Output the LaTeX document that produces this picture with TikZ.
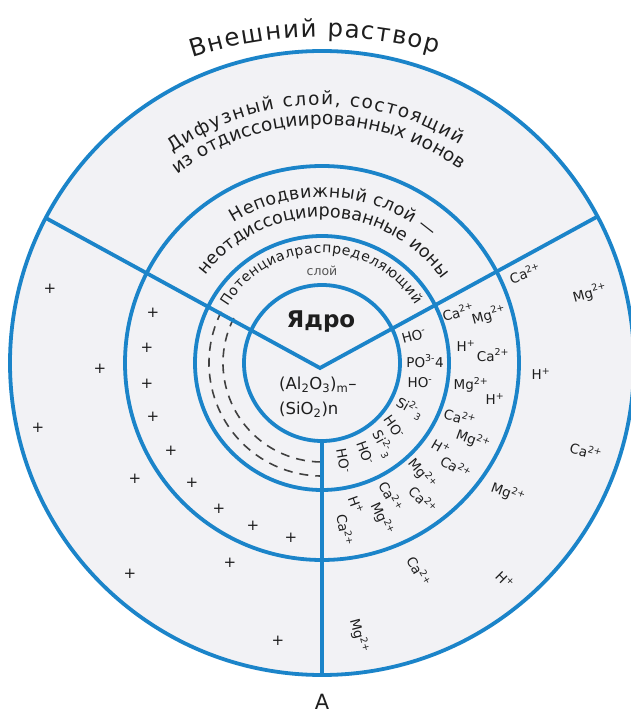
\documentclass[tikz,border=0pt]{standalone}
\usepackage{fontspec}
\setmainfont{DejaVu Sans}
\usetikzlibrary{decorations.text}

\definecolor{ringblue}{RGB}{27,132,201}
\definecolor{cellgray}{RGB}{242,242,245}
\definecolor{ink}{RGB}{30,30,30}
\definecolor{softink}{RGB}{85,85,85}

\newcommand{\titlefont}{\color{ink}\fontsize{24.5}{24.5}\selectfont}
\newcommand{\layerfont}{\color{ink}\fontsize{18.5}{18.5}\selectfont}
\newcommand{\stillfont}{\color{ink}\fontsize{17.5}{17.5}\selectfont}
\newcommand{\potfont}{\color{ink}\fontsize{14}{14}\selectfont}

\tikzset{
    ring/.style={draw=ringblue, line width=3.8pt},
    chargeline/.style={draw=ink!85, line width=1.6pt, dash pattern=on 9pt off 7pt},
    arclabel/.style={decorate, decoration={text along path, text align={fit to path}}},
    ion/.style={text=ink, inner sep=0pt, font=\fontsize{13.5}{14}\selectfont},
    plus/.style={text=ink, inner sep=0pt, font=\fontsize{15}{15}\selectfont},
    formula/.style={text=ink, inner sep=0pt, anchor=west, font=\fontsize{16.5}{16.5}\selectfont}
}

\begin{document}
\begin{tikzpicture}[x=1pt, y=1pt]
        \useasboundingbox (-322,-352) rectangle (309,363);
        \fill[white] (-322,-352) rectangle (309,363);

        \fill[cellgray] (0,0) circle[radius=312];

        \coordinate (vtx) at (-2,-5);
        \coordinate (leftend) at (152.3:312);
        \coordinate (rightend) at (28:312);
        \coordinate (corebot) at (0,-78);
        \coordinate (outbot) at (0,-312);

        \draw[chargeline] (153:113) arc[start angle=153, end angle=270, radius=113];
        \draw[chargeline] (153:99) arc[start angle=153, end angle=270, radius=99];

        \draw[ring] (0,0) circle[radius=312];
        \draw[ring] (0,0) circle[radius=197];
        \draw[ring] (0,0) circle[radius=127];
        \draw[ring] (0,0) circle[radius=78];
        \draw[ring, line join=miter] (leftend) -- (vtx) -- (rightend);
        \draw[ring] (corebot) -- (outbot);

        % layer captions
        \path[arclabel, shift={(0,-94)}, decoration={text={|\titlefont|Внешний раствор}}]
            (108:420) arc[start angle=108, end angle=74, radius=420];
        \path[arclabel, decoration={text={|\layerfont|Дифузный слой, состоящий}}]
            (125.5:258) arc[start angle=125.5, end angle=57.7, radius=258];
        \path[arclabel, decoration={text={|\layerfont|из отдиссоциированных ионов}}]
            (127.5:238) arc[start angle=127.5, end angle=54.5, radius=238];
        \path[arclabel, decoration={text={|\stillfont|Неподвижный слой —}}]
            (122:166) arc[start angle=122, end angle=49, radius=166];
        \path[arclabel, decoration={text={|\stillfont|неотдиссоциированные ионы}}]
            (143:146) arc[start angle=143, end angle=35, radius=146];
        \path[arclabel, decoration={text={|\potfont|Потенциалраспределяющий}}]
            (149:110) arc[start angle=149, end angle=32, radius=110];
        \node[text=softink, inner sep=0pt, font=\fontsize{12.5}{12.5}\selectfont] (potword) at (0,92) {слой};

        % core
        \node[text=ink, inner sep=0pt, font=\fontsize{23}{23}\selectfont\bfseries] (nucleus) at (-1,41) {Ядро};
        \node[formula] (alox) at (-43,-22) {(Al\textsubscript{2}O\textsubscript{3})\textsubscript{m}–};
        \node[formula] (siox) at (-43,-47) {(SiO\textsubscript{2})n};

        % potential layer
        \node[ion, rotate=15] (pa) at (92,27) {HO\textsuperscript{-}};
        \node[ion] (pb) at (103,2) {PO\textsuperscript{3-}4};
        \node[ion] (pc) at (98,-20) {HO\textsuperscript{-}};
        \node[ion, rotate=-30] (pd) at (88,-45) {Si\textsuperscript{2-}\textsubscript{3}};
        \node[ion, rotate=-55] (pe) at (72,-64) {HO\textsuperscript{-}};
        \node[ion, rotate=-62] (pf) at (61,-81) {Si\textsuperscript{2-}\textsubscript{3}};
        \node[ion, rotate=-70] (pg) at (43,-90) {HO\textsuperscript{-}};
        \node[ion, rotate=-80] (ph) at (21,-98) {HO\textsuperscript{-}};

        % stationary layer
        \node[ion, rotate=15] (sa) at (136,51) {Ca\textsuperscript{2+}};
        \node[ion, rotate=15] (sb) at (167,48) {Mg\textsuperscript{2+}};
        \node[ion] (sc) at (144,17) {H\textsuperscript{+}};
        \node[ion] (sd) at (171,8) {Ca\textsuperscript{2+}};
        \node[ion] (se) at (149,-22) {Mg\textsuperscript{2+}};
        \node[ion] (sf) at (173,-36) {H\textsuperscript{+}};
        \node[ion, rotate=-15] (sg) at (138,-54) {Ca\textsuperscript{2+}};
        \node[ion, rotate=-20] (sh) at (151,-77) {Mg\textsuperscript{2+}};
        \node[ion, rotate=-30] (si) at (119,-84) {H\textsuperscript{+}};
        \node[ion, rotate=-30] (sj) at (134,-104) {Ca\textsuperscript{2+}};
        \node[ion, rotate=-50] (sk) at (100,-111) {Mg\textsuperscript{2+}};
        \node[ion, rotate=-45] (sl) at (101,-137) {Ca\textsuperscript{2+}};
        \node[ion, rotate=-60] (sm) at (69,-133) {Ca\textsuperscript{2+}};
        \node[ion, rotate=-65] (sn) at (60,-156) {Mg\textsuperscript{2+}};
        \node[ion, rotate=-70] (so) at (34,-142) {H\textsuperscript{+}};
        \node[ion, rotate=-80] (sp) at (23,-167) {Ca\textsuperscript{2+}};

        % diffuse layer
        \node[ion, rotate=20] (da) at (203,90) {Ca\textsuperscript{2+}};
        \node[ion, rotate=15] (db) at (268,70) {Mg\textsuperscript{2+}};
        \node[ion] (dc) at (219,-11) {H\textsuperscript{+}};
        \node[ion, rotate=-15] (dd) at (264,-88) {Ca\textsuperscript{2+}};
        \node[ion, rotate=-20] (de) at (186,-130) {Mg\textsuperscript{2+}};
        \node[ion, rotate=-45] (df) at (183,-217) {H\textsuperscript{+}};
        \node[ion, rotate=-60] (dg) at (97,-208) {Ca\textsuperscript{2+}};
        \node[ion, rotate=-75] (dh) at (37,-273) {Mg\textsuperscript{2+}};

        % counter charges
        \node[plus] (q1) at (-272,74) {+};
        \node[plus] (q2) at (-169,50) {+};
        \node[plus] (q3) at (-175,15) {+};
        \node[plus] (q4) at (-222,-6) {+};
        \node[plus] (q5) at (-175,-21) {+};
        \node[plus] (q6) at (-169,-54) {+};
        \node[plus] (q7) at (-284,-65) {+};
        \node[plus] (q8) at (-151,-88) {+};
        \node[plus] (q9) at (-187,-116) {+};
        \node[plus] (q10) at (-130,-120) {+};
        \node[plus] (q11) at (-103,-146) {+};
        \node[plus] (q12) at (-69,-163) {+};
        \node[plus] (q13) at (-31,-175) {+};
        \node[plus] (q14) at (-92,-200) {+};
        \node[plus] (q15) at (-192,-211) {+};
        \node[plus] (q16) at (-44,-278) {+};

        \node[text=ink, inner sep=0pt, font=\fontsize{21}{21}\selectfont] (caption) at (0,-339) {A};
    \end{tikzpicture}
\end{document}
